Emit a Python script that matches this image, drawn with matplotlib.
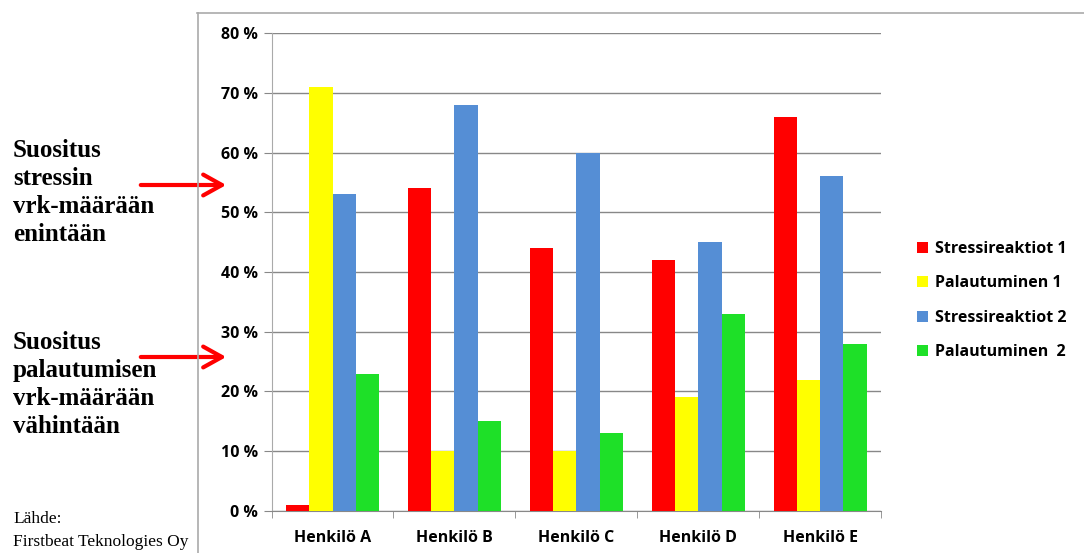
import numpy as np
import matplotlib.pyplot as plt
from matplotlib.lines import Line2D
from matplotlib.patches import FancyArrowPatch
from matplotlib.ticker import FixedLocator

persons = ['Henkilö A', 'Henkilö B', 'Henkilö C', 'Henkilö D', 'Henkilö E']
series_names = ['Stressireaktiot 1', 'Palautuminen 1', 'Stressireaktiot 2', 'Palautuminen  2']
stress1 = [1, 54, 44, 42, 66]
recov1 = [71, 10, 10, 19, 22]
stress2 = [53, 68, 60, 45, 56]
recov2 = [23, 15, 13, 33, 28]
colors = ['#ff0000', '#ffff00', '#558ed5', '#1ee028']

sans = ['Open Sans', 'DejaVu Sans']
serif = ['Liberation Serif', 'DejaVu Serif']

fig = plt.figure(figsize=(10.84, 5.53), dpi=100)
ax = fig.add_axes([0.2505, 0.076, 0.5625, 0.8643])

x = np.arange(len(persons))
w = 0.19
for i, (vals, c, name) in enumerate(zip([stress1, recov1, stress2, recov2], colors, series_names)):
    ax.bar(x + (i - 1.5) * w, vals, w, color=c, label=name, zorder=3)

ax.set_xlim(-0.5, 4.5)
ax.set_ylim(0, 80)
ax.set_yticks(range(0, 81, 10))
ax.set_yticklabels([f'{v} %' for v in range(0, 81, 10)], fontfamily=sans,
                   fontweight='bold', fontsize=11.5)
ax.set_xticks(x)
ax.set_xticklabels(persons, fontfamily=sans, fontweight='bold', fontsize=11.5)
ax.xaxis.set_minor_locator(FixedLocator(np.arange(-0.5, 5, 1)))
ax.tick_params(axis='x', which='major', length=0, pad=14)
ax.tick_params(axis='x', which='minor', length=5, color='#888888')
ax.tick_params(axis='y', length=6, color='#888888', pad=4)
ax.grid(axis='y', color='#888888', lw=1, zorder=0)
for s in ['top', 'right']:
    ax.spines[s].set_visible(False)
ax.spines['left'].set_color('#aaaaaa')
ax.spines['bottom'].set_color('#888888')

ax.legend(loc='center left', bbox_to_anchor=(1.035, 0.44), frameon=False,
          prop={'family': sans, 'weight': 'bold', 'size': 11.5},
          handlelength=0.7, handleheight=0.7, handletextpad=0.4, labelspacing=1.15)

# chart frame
fig.add_artist(Line2D([198 / 1084, 198 / 1084], [0, 1 - 13 / 553], color='#aaaaaa', lw=1.2))
fig.add_artist(Line2D([197 / 1084, 1], [1 - 13 / 553, 1 - 13 / 553], color='#aaaaaa', lw=1.2))

# annotations
fig.text(13 / 1084, 1 - 139 / 553, 'Suositus\nstressin\nvrk-määrään\nenintään',
         fontfamily=serif, fontweight='bold', fontsize=18, va='top', linespacing=1.27)
fig.text(13 / 1084, 1 - 331 / 553, 'Suositus\npalautumisen\nvrk-määrään\nvähintään',
         fontfamily=serif, fontweight='bold', fontsize=18, va='top', linespacing=1.27)
for yp in [185, 357]:
    fig.add_artist(FancyArrowPatch(
        (138 / 1084, 1 - yp / 553), (229 / 1084, 1 - yp / 553),
        transform=fig.transFigure, arrowstyle='->,head_length=9,head_width=5',
        color='#ff0000', lw=3, mutation_scale=1.5))

fig.text(13 / 1084, 1 - 519 / 553, 'Lähde:', fontfamily=serif, fontsize=12.5, va='center')
fig.text(13 / 1084, 1 - 542 / 553, 'Firstbeat Teknologies Oy', fontfamily=serif,
         fontsize=12.5, va='center')

fig.savefig('out.png', dpi=100)
